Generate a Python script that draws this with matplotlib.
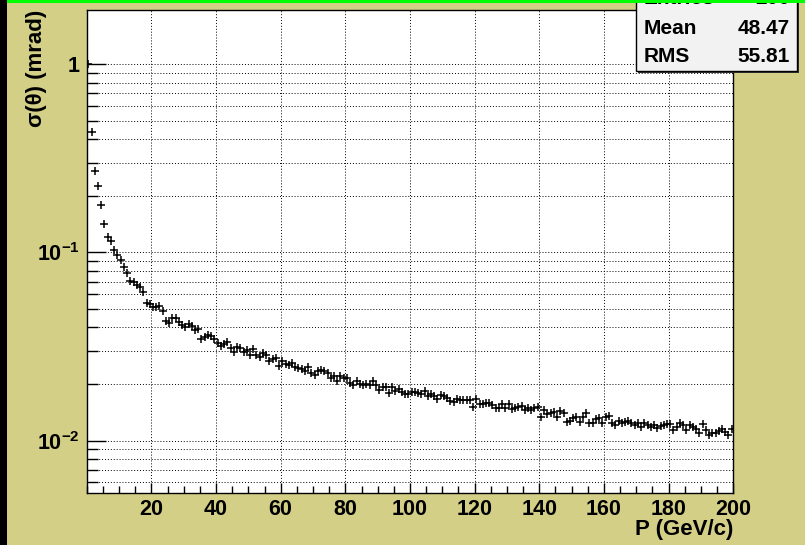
import numpy as np
from matplotlib import pyplot as plt
from matplotlib.patches import Rectangle
from matplotlib.ticker import FixedLocator, FixedFormatter, MultipleLocator, LogLocator, NullFormatter

plt.rcParams['font.family'] = ['Liberation Sans', 'DejaVu Sans']
plt.rcParams['font.weight'] = 'bold'
plt.rcParams['mathtext.fontset'] = 'custom'
plt.rcParams['mathtext.rm'] = 'Liberation Sans:bold'
plt.rcParams['mathtext.bf'] = 'Liberation Sans:bold'

# Centros dos bins de momento (200 bins entre 0 e 200 GeV/c)
p_bins = np.arange(0.5, 200.0, 1.0)

sigma_theta = [
    1.0,
    0.435, 0.271, 0.2256, 0.178, 0.1417, 0.1213, 0.1147, 0.1035, 0.0970, 0.0909,
    0.0838, 0.0778, 0.0708, 0.0697, 0.0669, 0.0653, 0.0617, 0.0541, 0.0534, 0.0511,
    0.0511, 0.0519, 0.0487, 0.0433, 0.0424, 0.0450, 0.0450, 0.0429, 0.0412, 0.0404,
    0.0416, 0.0408, 0.0388, 0.0394,
    0.03458, 0.03543, 0.03658, 0.03600, 0.03458, 0.03292, 0.03185, 0.03264, 0.03357, 0.03097,
    0.02949, 0.03158, 0.03108, 0.02949, 0.03034, 0.02853, 0.03060, 0.02853, 0.02794, 0.02913,
    0.02853, 0.02661, 0.02707, 0.02740, 0.02493, 0.02651, 0.02556, 0.02525, 0.02597, 0.02472,
    0.02442, 0.02404, 0.02346, 0.02460, 0.02298, 0.02234, 0.02338, 0.02375, 0.02355, 0.02298,
    0.02146, 0.02207, 0.02084, 0.02207, 0.02162, 0.02146, 0.02033, 0.01977, 0.02084, 0.01994,
    0.01977, 0.02002, 0.01977, 0.02084, 0.01977, 0.01860, 0.01936, 0.01936, 0.01799, 0.01936,
    0.01837, 0.01876,
    0.01808, 0.01764, 0.01764, 0.01821, 0.01821, 0.01799, 0.01764, 0.01843, 0.01728, 0.01764,
    0.01734, 0.01665, 0.01750, 0.01734, 0.01680, 0.01626, 0.01600, 0.01665, 0.01645, 0.01645,
    0.01645, 0.01645, 0.01516, 0.01660, 0.01561, 0.01566, 0.01580, 0.01580, 0.01548, 0.01486,
    0.01486, 0.01566, 0.01486, 0.01561, 0.01474, 0.01486, 0.01505, 0.01534, 0.01456, 0.01486,
    0.01456, 0.01486, 0.01516, 0.01341, 0.01456, 0.01386, 0.01397, 0.01426, 0.01331, 0.01438,
    0.01398, 0.01253,
    0.01277, 0.01315, 0.01341, 0.01262, 0.01341, 0.01398, 0.01247, 0.01247, 0.01304, 0.01315,
    0.01238, 0.01331, 0.01353, 0.01247, 0.01212, 0.01277, 0.01238, 0.01262, 0.01277, 0.01247,
    0.01212, 0.01238, 0.01187, 0.01238, 0.01212, 0.01187, 0.01212, 0.01172, 0.01197, 0.01212,
    0.01222, 0.01222, 0.01140, 0.01187, 0.01238, 0.01212, 0.01140, 0.01212, 0.01178, 0.01149,
    0.01095, 0.01225, 0.01140, 0.01072, 0.01103, 0.01103, 0.01130, 0.01149, 0.01116, 0.01072,
    0.01154,
]

# Caixa de estatisticas
stat_names = ['Entries', 'Mean', 'RMS']
stat_values = ['200', '48.47', '55.81']

x_ticks = [20, 40, 60, 80, 100, 120, 140, 160, 180, 200]
y_ticks = [1e-2, 1e-1, 1.0]
y_tick_labels = [r'$10^{-2}$', r'$10^{-1}$', '1']

W, H = 805, 545
FUNDO = '#d4cf87'


def px(x, y):
    # converte pixel da imagem (origem no topo) para fracao da figura
    return x / W, 1 - y / H


fig = plt.figure(figsize=(W / 100, H / 100), dpi=100, facecolor=FUNDO)
ax = fig.add_axes([86.7 / W, 1 - 493.3 / H, (733.3 - 86.7) / W, (493.3 - 10) / H])
ax.set_facecolor('white')

ax.plot(p_bins, sigma_theta, linestyle='none', marker='+', ms=5.5, mew=1.1,
        color='black', zorder=3)

# Eixos
ax.set_yscale('log')
ax.set_xlim(0, 200)
ax.set_ylim(5.25e-3, 1.943)

ax.xaxis.set_major_locator(FixedLocator(x_ticks))
ax.xaxis.set_minor_locator(MultipleLocator(5))
ax.yaxis.set_major_locator(FixedLocator(y_ticks))
ax.yaxis.set_major_formatter(FixedFormatter(y_tick_labels))
ax.yaxis.set_minor_locator(LogLocator(base=10, subs=range(2, 10)))
ax.yaxis.set_minor_formatter(NullFormatter())

ax.tick_params(axis='y', which='major', direction='in', length=14, width=1, pad=5, labelsize=15.5)
ax.tick_params(axis='y', which='minor', direction='in', length=8, width=1)
ax.tick_params(axis='x', which='major', direction='in', length=7, width=1, pad=4, labelsize=15.5)
ax.tick_params(axis='x', which='minor', direction='in', length=5, width=1)

for s in ax.spines.values():
    s.set_linewidth(1)
    s.set_color('black')

# Grade pontilhada
grade = dict(color='black', linestyle=(0, (1, 2)), linewidth=0.7)
ax.grid(axis='x', which='major', **grade)
ax.grid(axis='y', which='both', **grade)
ax.set_axisbelow(True)

# Rotulos
ax.set_xlabel('P (GeV/c)', loc='right', fontsize=16, fontweight='bold')
ax.xaxis.set_label_coords(1.0, -0.053)
ax.set_ylabel('σ(θ) (mrad)', loc='top', fontsize=16, fontweight='bold')
ax.yaxis.set_label_coords(-0.062, 1.0)

# Caixa de estatisticas (cortada no topo, como no original)
x0, y0 = px(638, 73)
fig.add_artist(Rectangle((x0, y0), 161 / W, 0.2, transform=fig.transFigure,
                         facecolor='#333333', edgecolor='none', zorder=5))
x0, y0 = px(636, 71)
fig.add_artist(Rectangle((x0, y0), 161 / W, 0.2, transform=fig.transFigure,
                         facecolor='#f2f2f2', edgecolor='black', linewidth=1, zorder=6))
for i, (nome, valor) in enumerate(zip(stat_names, stat_values)):
    yy = -1 + 29 * i
    fig.text(*px(644, yy), nome, ha='left', va='center', fontsize=15,
             fontweight='bold', zorder=7)
    fig.text(*px(790, yy), valor, ha='right', va='center', fontsize=15,
             fontweight='bold', zorder=7)

# Bordas da janela: faixa verde no topo e preta na esquerda
fig.add_artist(Rectangle(px(0, 3), 1, 3 / H, transform=fig.transFigure,
                         facecolor='#00ff00', edgecolor='none', zorder=10))
fig.add_artist(Rectangle((0, 0), 7 / W, 1, transform=fig.transFigure,
                         facecolor='black', edgecolor='none', zorder=10))

fig.savefig('out.png', dpi=100, facecolor=FUNDO)
